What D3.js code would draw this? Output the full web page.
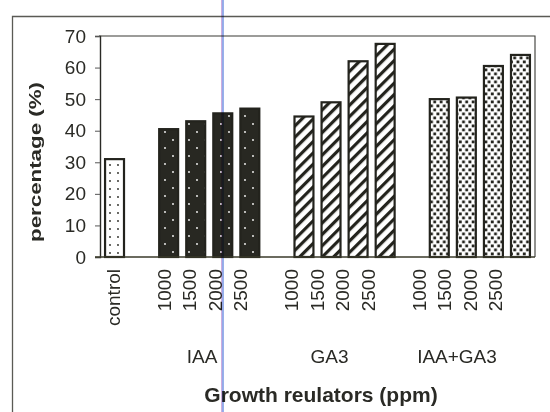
<!DOCTYPE html>
<html>
<head>
<meta charset="utf-8">
<script src="https://cdn.jsdelivr.net/npm/d3@7"></script>
<style>
  html, body { margin: 0; padding: 0; background: #ffffff; }
  svg { display: block; font-family: "Liberation Sans", Arial, sans-serif; }
</style>
</head>
<body>
<svg id="chart" width="550" height="412"></svg>
<script>
// ---- data ----
const groups = ["control", "IAA", "GA3", "IAA+GA3"];
const doses = ["1000", "1500", "2000", "2500"];
const controlValues = [31];
const iaaValues = [40.5, 43, 45.5, 47];
const ga3Values = [44.5, 49, 62, 67.5];
const iaaGa3Values = [50, 50.5, 60.5, 64];
const yTicks = [0, 10, 20, 30, 40, 50, 60, 70];
const yTitle = "percentage (%)";
const xTitle = "Growth reulators (ppm)";

// build slots (control, gap, 4 IAA, gap, 4 GA3, gap, 4 IAA+GA3)
const slots = [];
slots.push({ key: "control", label: "control", group: "control", value: controlValues[0] });
[["IAA", iaaValues], ["GA3", ga3Values], ["IAA+GA3", iaaGa3Values]].forEach(([g, vals]) => {
  slots.push({ key: "gap-" + g, label: "", group: null, value: null });
  doses.forEach((d, i) => slots.push({ key: g + "-" + d, label: d, group: g, value: vals[i] }));
});

const svg = d3.select("#chart");
const ink = "#23231d";

// ---- patterns ----
const defs = svg.append("defs");
// control: white with small dark dots
const pC = defs.append("pattern").attr("id", "pat-control").attr("patternUnits", "userSpaceOnUse")
  .attr("width", 8).attr("height", 8).attr("x", 2).attr("y", 1);
pC.append("rect").attr("width", 8).attr("height", 8).attr("fill", "#fff");
pC.append("circle").attr("cx", 4).attr("cy", 4).attr("r", 0.9).attr("fill", ink);
// IAA: dark with white dots, staggered
const pI = defs.append("pattern").attr("id", "pat-IAA").attr("patternUnits", "userSpaceOnUse")
  .attr("width", 16).attr("height", 16).attr("x", 1);
pI.append("rect").attr("width", 16).attr("height", 16).attr("fill", "#282822");
pI.append("circle").attr("cx", 4).attr("cy", 4).attr("r", 0.9).attr("fill", "#fff");
pI.append("circle").attr("cx", 12).attr("cy", 12).attr("r", 0.9).attr("fill", "#fff");
// GA3: diagonal stripes
const pG = defs.append("pattern").attr("id", "pat-GA3").attr("patternUnits", "userSpaceOnUse")
  .attr("width", 8).attr("height", 8).attr("patternTransform", "rotate(45)");
pG.append("rect").attr("width", 8).attr("height", 8).attr("fill", "#fff");
pG.append("rect").attr("width", 3.2).attr("height", 8).attr("fill", ink);
// IAA+GA3: staggered dark squares
const pM = defs.append("pattern").attr("id", "pat-IAA+GA3").attr("patternUnits", "userSpaceOnUse")
  .attr("width", 6.4).attr("height", 8).attr("x", 1);
pM.append("rect").attr("width", 6.4).attr("height", 8).attr("fill", "#fff");
pM.append("rect").attr("x", 0.3).attr("y", 0.5).attr("width", 2.8).attr("height", 2.8).attr("fill", ink);
pM.append("rect").attr("x", 3.5).attr("y", 4.5).attr("width", 2.8).attr("height", 2.8).attr("fill", ink);

// ---- outer frame ----
svg.append("path").attr("d", "M12.5,412 L12.5,16.5 L550,16.5")
  .attr("fill", "none").attr("stroke", "#5a5a55").attr("stroke-width", 1.3);

// ---- scales ----
const x = d3.scaleBand().domain(slots.map(s => s.key)).range([101, 534])
  .paddingInner(0.3).paddingOuter(0.15);
const xLabel = x.copy().range([100, 508]);
const y = d3.scaleLinear().domain([0, 70]).range([257, 36]);

// plot frame (top & right)
svg.append("path").attr("d", `M99,${y(70)} L535,${y(70)} L535,${y(0)}`)
  .attr("fill", "none").attr("stroke", "#3a3a35").attr("stroke-width", 1.1);

// ---- bars ----
const barData = slots.filter(s => s.value !== null);
svg.append("g").selectAll("rect").data(barData).join("rect")
  .attr("x", d => x(d.key))
  .attr("width", x.bandwidth())
  .attr("y", d => y(d.value))
  .attr("height", d => y(0) - y(d.value))
  .attr("fill", d => `url(#pat-${d.group})`)
  .attr("stroke", ink).attr("stroke-width", 2.2);

// ---- y axis ----
const yAxis = svg.append("g").attr("transform", "translate(100,0)")
  .call(d3.axisLeft(y).tickValues(yTicks).tickSize(5).tickPadding(9).tickFormat(d3.format("d")));
yAxis.select(".domain").attr("stroke", "#2a2a25").attr("stroke-width", 1.4);
yAxis.selectAll(".tick line").attr("stroke", "#555").attr("stroke-width", 1);
yAxis.selectAll(".tick text").attr("font-size", 19).attr("fill", "#2a2a25")
  .attr("font-family", "Liberation Sans, Arial, sans-serif");

// baseline
svg.append("line").attr("x1", 95).attr("x2", 535).attr("y1", y(0)).attr("y2", y(0))
  .attr("stroke", "#3a3a2a").attr("stroke-width", 1.6);

// ---- x tick labels (rotated) ----
const xAxis = svg.append("g").attr("transform", `translate(0,${y(0) + 12})`)
  .call(d3.axisBottom(xLabel).tickValues(barData.map(d => d.key)).tickSize(0)
    .tickFormat(k => slots.find(s => s.key === k).label));
xAxis.select(".domain").remove();
xAxis.selectAll(".tick text")
  .attr("font-size", 19).attr("fill", "#2a2a25")
  .attr("font-family", "Liberation Sans, Arial, sans-serif")
  .attr("transform", "rotate(-90)")
  .attr("text-anchor", "end")
  .attr("x", 0).attr("y", 0).attr("dy", "0.36em");

// ---- group labels ----
const groupLabels = groups.slice(1);
svg.append("g").selectAll("text").data(groupLabels).join("text")
  .attr("x", g => {
    const ks = slots.filter(s => s.group === g).map(s => s.key);
    return (xLabel(ks[0]) + xLabel(ks[ks.length - 1]) + xLabel.bandwidth()) / 2;
  })
  .attr("y", 363)
  .attr("text-anchor", "middle")
  .attr("font-size", 19)
  .attr("fill", "#2a2a25")
  .text(g => g);

// ---- axis titles ----
svg.append("text")
  .attr("transform", "translate(41,162) rotate(-90)")
  .attr("text-anchor", "middle")
  .attr("font-size", 17).attr("font-weight", "bold").attr("fill", "#2a2a25")
  .attr("textLength", 160).attr("lengthAdjust", "spacingAndGlyphs")
  .text(yTitle);

svg.append("text")
  .attr("x", 321).attr("y", 402)
  .attr("text-anchor", "middle")
  .attr("font-size", 21).attr("font-weight", "bold").attr("fill", "#2a2a25")
  .text(xTitle);

// ---- scan line artifact ----
svg.append("line").attr("x1", 221.6).attr("x2", 221.6).attr("y1", 0).attr("y2", 412)
  .attr("stroke", "#c9a6dc").attr("stroke-width", 1).style("mix-blend-mode", "multiply");
svg.append("line").attr("x1", 223).attr("x2", 223).attr("y1", 0).attr("y2", 412)
  .attr("stroke", "#7f9ce6").attr("stroke-width", 1.6).style("mix-blend-mode", "multiply");
</script>
</body>
</html>
